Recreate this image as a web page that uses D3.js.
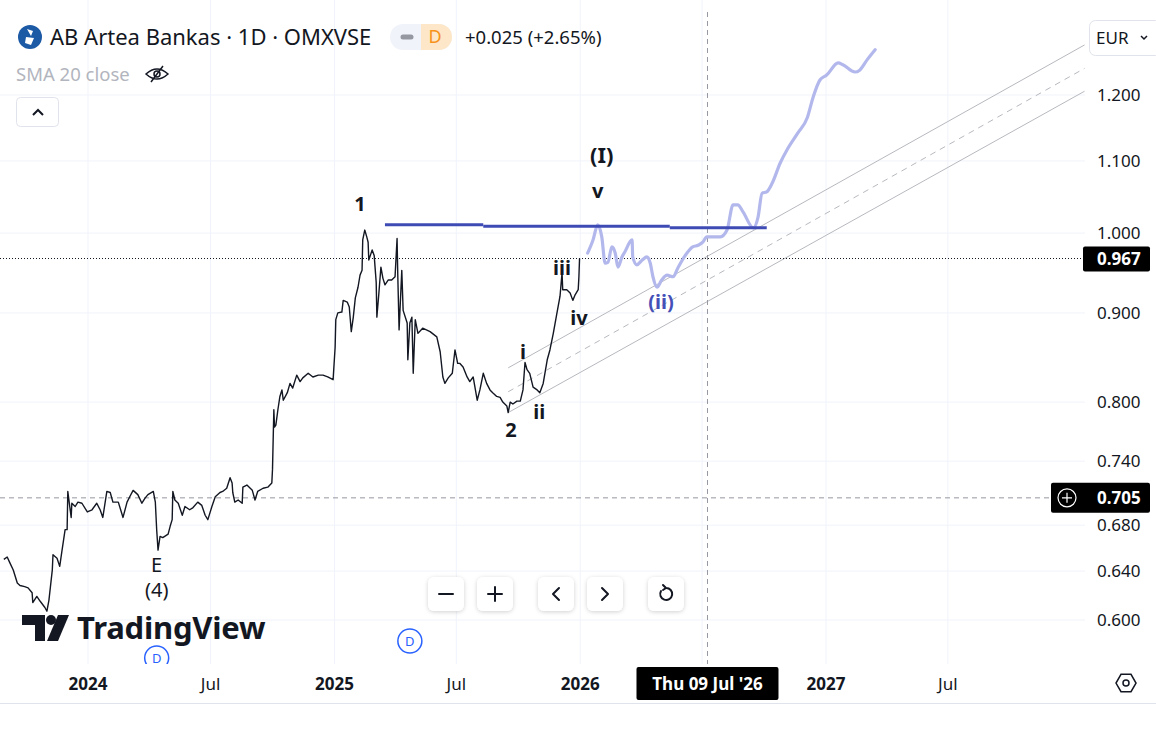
<!DOCTYPE html>
<html>
<head>
<meta charset="utf-8">
<script src="https://cdn.jsdelivr.net/npm/d3@7"></script>
<style>
  body { margin: 0; background: #fff; }
  svg { display: block; font-family: "Noto Sans", sans-serif; }
</style>
</head>
<body>
<div id="chart"></div>
<script>
// daily closes (AB Artea Bankas, OMXVSE)
const priceDates = [
  "2023-08-29","2023-09-03","2023-09-07","2023-09-12","2023-09-18","2023-09-22","2023-09-29","2023-10-04",
  "2023-10-10","2023-10-11","2023-10-17","2023-10-22","2023-10-29","2023-11-01","2023-11-04","2023-11-09",
  "2023-11-10","2023-11-16","2023-11-20","2023-11-23","2023-11-28","2023-12-01","2023-12-02","2023-12-07",
  "2023-12-08","2023-12-13","2023-12-17","2023-12-23","2023-12-31","2024-01-07","2024-01-14","2024-01-19",
  "2024-01-23","2024-01-29","2024-02-03","2024-02-07","2024-02-15","2024-02-22","2024-02-28","2024-03-03",
  "2024-03-08","2024-03-15","2024-03-21","2024-03-26","2024-03-30","2024-04-07","2024-04-10","2024-04-12",
  "2024-04-14","2024-04-17","2024-04-21","2024-04-29","2024-05-02","2024-05-05","2024-05-06","2024-05-09",
  "2024-05-14","2024-05-20","2024-05-24","2024-05-31","2024-06-05","2024-06-12","2024-06-18","2024-06-23",
  "2024-06-27","2024-07-03","2024-07-08","2024-07-15","2024-07-19","2024-07-25","2024-07-30","2024-08-02",
  "2024-08-03","2024-08-06","2024-08-11","2024-08-17","2024-08-18","2024-08-24","2024-09-01","2024-09-05",
  "2024-09-09","2024-09-17","2024-09-24","2024-09-30","2024-10-01","2024-10-03","2024-10-04","2024-10-06",
  "2024-10-09","2024-10-12","2024-10-15","2024-10-17","2024-10-23","2024-10-27","2024-10-31","2024-11-06",
  "2024-11-11","2024-11-15","2024-11-23","2024-11-30","2024-12-08","2024-12-15","2024-12-22","2024-12-30",
  "2025-01-02","2025-01-03","2025-01-06","2025-01-12","2025-01-14","2025-01-20","2025-01-23","2025-01-26",
  "2025-01-29","2025-02-01","2025-02-05","2025-02-08","2025-02-11","2025-02-12","2025-02-15","2025-02-18",
  "2025-02-20","2025-02-21","2025-02-26","2025-03-01","2025-03-04","2025-03-05","2025-03-08","2025-03-11",
  "2025-03-14","2025-03-17","2025-03-22","2025-03-27","2025-04-01","2025-04-04","2025-04-05","2025-04-07",
  "2025-04-11","2025-04-13","2025-04-19","2025-04-20","2025-04-23","2025-04-26","2025-04-28","2025-05-01",
  "2025-05-05","2025-05-12","2025-05-23","2025-06-02","2025-06-07","2025-06-11","2025-06-14","2025-06-19",
  "2025-06-25","2025-06-29","2025-07-03","2025-07-06","2025-07-11","2025-07-17","2025-07-21","2025-07-26",
  "2025-08-01","2025-08-05","2025-08-10","2025-08-15","2025-08-20","2025-08-24","2025-08-30","2025-09-04",
  "2025-09-08","2025-09-14","2025-09-16","2025-09-19","2025-09-23","2025-09-29","2025-10-04","2025-10-08",
  "2025-10-11","2025-10-14","2025-10-18","2025-10-23","2025-10-29","2025-11-02","2025-11-07","2025-11-13",
  "2025-11-17","2025-11-22","2025-11-27","2025-12-02","2025-12-05","2025-12-06","2025-12-12","2025-12-17",
  "2025-12-21","2025-12-24","2025-12-29","2025-12-30","2025-12-31"
];
const priceValues = [
  0.650,0.652,0.647,0.641,0.630,0.628,0.627,0.626,
  0.622,0.614,0.619,0.615,0.610,0.607,0.616,0.641,
  0.654,0.651,0.644,0.656,0.676,0.676,0.711,0.687,
  0.700,0.697,0.701,0.700,0.692,0.694,0.700,0.694,
  0.687,0.711,0.710,0.701,0.701,0.687,0.701,0.706,
  0.712,0.708,0.700,0.705,0.708,0.711,0.701,0.676,
  0.658,0.670,0.669,0.672,0.679,0.685,0.711,0.703,
  0.700,0.689,0.697,0.694,0.696,0.701,0.698,0.689,
  0.685,0.697,0.706,0.710,0.711,0.714,0.724,0.719,
  0.710,0.701,0.703,0.700,0.715,0.717,0.712,0.703,
  0.711,0.714,0.715,0.719,0.732,0.792,0.774,0.776,
  0.792,0.806,0.813,0.802,0.810,0.820,0.815,0.829,
  0.822,0.826,0.831,0.827,0.829,0.829,0.827,0.824,
  0.860,0.892,0.900,0.901,0.915,0.913,0.907,0.878,
  0.895,0.918,0.931,0.946,0.952,0.991,1.004,0.995,
  0.988,0.965,0.978,0.971,0.937,0.895,0.924,0.956,
  0.942,0.934,0.940,0.940,0.944,0.993,0.948,0.880,
  0.952,0.903,0.888,0.846,0.888,0.895,0.831,0.892,
  0.876,0.882,0.878,0.872,0.855,0.827,0.820,0.826,
  0.831,0.857,0.842,0.842,0.838,0.827,0.822,0.827,
  0.802,0.813,0.831,0.820,0.813,0.810,0.806,0.805,
  0.800,0.796,0.789,0.800,0.798,0.801,0.801,0.813,
  0.843,0.835,0.831,0.816,0.813,0.810,0.820,0.846,
  0.857,0.876,0.898,0.920,0.949,0.928,0.928,0.924,
  0.915,0.921,0.928,0.943,0.967
];

// hand-drawn projected path
const forecastDates = [
  "2026-01-12","2026-01-20","2026-01-27","2026-02-02","2026-02-07","2026-02-11","2026-02-17","2026-02-22",
  "2026-02-26","2026-03-04","2026-03-08","2026-03-19","2026-03-20","2026-03-26","2026-04-03","2026-04-10",
  "2026-04-15","2026-04-19","2026-04-25","2026-05-02","2026-05-10","2026-05-19","2026-05-26","2026-06-06",
  "2026-06-17","2026-06-25","2026-07-02","2026-07-08","2026-07-28","2026-08-07","2026-08-16","2026-08-23",
  "2026-08-31","2026-09-15","2026-09-22","2026-09-28","2026-10-05","2026-10-13","2026-10-25","2026-11-04",
  "2026-11-20","2026-12-04","2026-12-13","2026-12-23","2027-01-02","2027-01-19","2027-01-26","2027-02-13",
  "2027-02-20","2027-03-03","2027-03-15"
];
const forecastValues = [
  0.974,0.991,1.011,0.995,0.961,0.962,0.982,0.974,
  0.956,0.969,0.975,0.991,0.969,0.959,0.965,0.969,
  0.961,0.944,0.931,0.940,0.946,0.944,0.955,0.971,
  0.982,0.984,0.988,0.995,0.995,1.004,1.038,1.038,
  1.028,1.007,1.021,1.054,1.056,1.068,1.097,1.116,
  1.141,1.164,1.197,1.224,1.232,1.252,1.249,1.237,
  1.240,1.257,1.274
];

// resistance line (three joined segments)
const resistanceDates = ["2025-03-17", "2025-08-10", "2026-05-14", "2026-10-05"];
const resistanceValues = [1.011, 1.009, 1.007];

// parallel channel
const channelDates = ["2025-09-16", "2028-01-20"];
const channelUpper = [0.837, 1.282];
const channelMid = [0.811, 1.243];
const channelLower = [0.789, 1.206];

const lastPrice = 0.967;
const crossPrice = 0.705;
const crossDate = "2026-07-09";
const crossDateLabel = "Thu 09 Jul '26";

const priceTicks = [0.6, 0.64, 0.68, 0.74, 0.8, 0.9, 1.0, 1.1, 1.2];
const timeTicks = ["2024-01-01","2024-07-01","2025-01-01","2025-07-01","2026-01-01","2026-07-01","2027-01-01","2027-07-01"];
const timeTickLabels = ["2024","Jul","2025","Jul","2026","","2027","Jul"];

// Elliott wave labels
const waveText = ["1", "2", "i", "ii", "iii", "iv", "v", "(I)", "E", "(4)", "(ii)"];
const waveDates = ["2025-02-08","2025-09-20","2025-10-08","2025-11-01","2025-12-05","2025-12-30","2026-01-27","2026-02-02","2024-04-12","2024-04-12","2026-05-01"];
const waveValues = [1.039, 0.771, 0.855, 0.790, 0.955, 0.894, 1.058, 1.108, 0.645, 0.624, 0.913];

const dividendDates = ["2024-04-12", "2025-04-23"];

const W = 1156, H = 752;
const plotRight = 1085, plotBottom = 664;
const parse = d3.utcParse("%Y-%m-%d");

const svg = d3.select('#chart').append('svg')
    .attr('width', W)
    .attr('height', H);

svg.append('rect').attr('width', W).attr('height', H).attr('fill', '#fff');

const x = d3.scaleUtc()
    .domain([parse("2024-01-01"), parse("2027-01-01")])
    .range([88, 826]);

const y = d3.scaleLog()
    .domain([0.6, 1.2])
    .range([620, 95]);

svg.append('defs').append('clipPath').attr('id', 'plot-clip')
    .append('rect').attr('x', 0).attr('y', 0).attr('width', plotRight).attr('height', plotBottom);

const defs = svg.select('defs');
const shadow = defs.append('filter').attr('id', 'btn-shadow')
    .attr('x', '-30%').attr('y', '-30%').attr('width', '160%').attr('height', '160%');
shadow.append('feDropShadow').attr('dx', 0).attr('dy', 1).attr('stdDeviation', 2)
    .attr('flood-color', '#000').attr('flood-opacity', 0.18);

const plot = svg.append('g').attr('clip-path', 'url(#plot-clip)');

// gridlines
plot.append('g').selectAll('line')
    .data(timeTicks)
    .join('line')
    .attr('x1', d => x(parse(d))).attr('x2', d => x(parse(d)))
    .attr('y1', 0).attr('y2', plotBottom)
    .attr('stroke', '#f0f3fa');

plot.append('g').selectAll('line')
    .data(priceTicks)
    .join('line')
    .attr('x1', 0).attr('x2', plotRight)
    .attr('y1', d => y(d)).attr('y2', d => y(d))
    .attr('stroke', '#f0f3fa');

// channel
const channelLine = d3.line().x(d => x(parse(d[0]))).y(d => y(d[1]));
[channelUpper, channelMid, channelLower].forEach((vals, i) => {
    plot.append('path')
        .datum(channelDates.map((d, j) => [d, vals[j]]))
        .attr('d', channelLine)
        .attr('fill', 'none')
        .attr('stroke', '#b7b9bf')
        .attr('stroke-width', 1)
        .attr('stroke-dasharray', i === 1 ? '6,5' : null);
});

// last price dotted line
plot.append('line')
    .attr('x1', 0).attr('x2', plotRight)
    .attr('y1', y(lastPrice)).attr('y2', y(lastPrice))
    .attr('stroke', '#131722')
    .attr('stroke-width', 1)
    .attr('stroke-dasharray', '1,2');

// crosshair
plot.append('line')
    .attr('x1', 0).attr('x2', plotRight)
    .attr('y1', y(crossPrice)).attr('y2', y(crossPrice))
    .attr('stroke', '#9598a1')
    .attr('stroke-dasharray', '5,4');

plot.append('line')
    .attr('x1', x(parse(crossDate))).attr('x2', x(parse(crossDate)))
    .attr('y1', 12).attr('y2', plotBottom)
    .attr('stroke', '#9598a1')
    .attr('stroke-dasharray', '5,4');

// price line
const priceData = priceDates.map((d, i) => ({ date: parse(d), value: priceValues[i] }));
plot.append('path')
    .datum(priceData)
    .attr('d', d3.line().x(d => x(d.date)).y(d => y(d.value)))
    .attr('fill', 'none')
    .attr('stroke', '#131722')
    .attr('stroke-width', 1.4)
    .attr('stroke-linejoin', 'round');

// projection
const forecastData = forecastDates.map((d, i) => ({ date: parse(d), value: forecastValues[i] }));
plot.append('path')
    .datum(forecastData)
    .attr('d', d3.line().x(d => x(d.date)).y(d => y(d.value)).curve(d3.curveMonotoneX))
    .attr('fill', 'none')
    .attr('stroke', '#b3b8ec')
    .attr('stroke-width', 3.2)
    .attr('stroke-linecap', 'round')
    .attr('stroke-linejoin', 'round');

// resistance
resistanceValues.forEach((v, i) => {
    plot.append('line')
        .attr('x1', x(parse(resistanceDates[i])))
        .attr('x2', x(parse(resistanceDates[i + 1])))
        .attr('y1', y(v)).attr('y2', y(v))
        .attr('stroke', '#3f4bb4')
        .attr('stroke-width', 3);
});

// wave labels
plot.append('g').selectAll('text')
    .data(waveText)
    .join('text')
    .attr('x', (d, i) => x(parse(waveDates[i])))
    .attr('y', (d, i) => y(waveValues[i]))
    .attr('dy', '0.36em')
    .attr('text-anchor', 'middle')
    .attr('font-size', d => (d === '(I)' ? 22 : 20))
    .attr('font-weight', d => (d === 'E' || d === '(4)' ? 'normal' : 'bold'))
    .attr('fill', d => (d === '(ii)' ? '#4450b8' : '#131722'))
    .text(d => d);

// dividend markers
const divG = plot.append('g').selectAll('g')
    .data(dividendDates)
    .join('g')
    .attr('transform', (d, i) => `translate(${x(parse(d))},${i === 0 ? 658 : 641})`);
divG.append('circle').attr('r', 12).attr('fill', '#fff').attr('stroke', '#2962ff').attr('stroke-width', 1.5);
divG.append('text').attr('text-anchor', 'middle').attr('dy', '0.36em')
    .attr('font-size', 13).attr('fill', '#2962ff').text('D');

// TradingView watermark
const logo = svg.append('g').attr('fill', '#131722');
logo.append('path').attr('d', 'M22,615 H45 V641 H35 V625 H22 Z');
logo.append('circle').attr('cx', 51).attr('cy', 620).attr('r', 5);
logo.append('path').attr('d', 'M58,615 H69 L58,641 H47 Z');
logo.append('text')
    .attr('x', 77).attr('y', 639)
    .attr('font-size', 31).attr('font-weight', 'bold')
    .attr('letter-spacing', -0.2)
    .text('TradingView');

// navigation buttons
const btnX = [428, 477, 538, 587, 648];
const btnG = svg.append('g').selectAll('g')
    .data(btnX)
    .join('g')
    .attr('transform', d => `translate(${d},577)`);
btnG.append('rect').attr('width', 36).attr('height', 34).attr('rx', 6)
    .attr('fill', '#fff').attr('filter', 'url(#btn-shadow)');
const icons = [
    'M11,17 H25',
    'M11,17 H25 M18,10 V24',
    'M21,11 L15,17 L21,23',
    'M15,11 L21,17 L15,23',
    'M13,14 A6,6 0 1 0 18,11 M18,11 L15,8 M18,11 L15,13'
];
btnG.append('path').attr('d', (d, i) => icons[i])
    .attr('fill', 'none').attr('stroke', '#131722').attr('stroke-width', 2)
    .attr('stroke-linecap', 'round').attr('stroke-linejoin', 'round');

// right price scale
svg.append('g').selectAll('text')
    .data(priceTicks)
    .join('text')
    .attr('x', 1097)
    .attr('y', d => y(d))
    .attr('dy', '0.36em')
    .attr('font-size', 17)
    .attr('fill', '#131722')
    .text(d => d.toFixed(3));

svg.append('rect').attr('x', 1083).attr('y', y(lastPrice) - 12).attr('width', 67).attr('height', 25)
    .attr('rx', 2).attr('fill', '#000');
svg.append('text').attr('x', 1097).attr('y', y(lastPrice)).attr('dy', '0.36em')
    .attr('font-size', 17).attr('font-weight', 'bold').attr('fill', '#fff').text(lastPrice.toFixed(3));

svg.append('rect').attr('x', 1051).attr('y', y(crossPrice) - 15).attr('width', 99).attr('height', 30)
    .attr('rx', 2).attr('fill', '#000');
svg.append('circle').attr('cx', 1067).attr('cy', y(crossPrice)).attr('r', 9)
    .attr('fill', 'none').attr('stroke', '#fff').attr('stroke-width', 1.2);
svg.append('path')
    .attr('d', `M1062,${y(crossPrice)} H1072 M1067,${y(crossPrice) - 5} V${y(crossPrice) + 5}`)
    .attr('stroke', '#fff').attr('stroke-width', 1.2);
svg.append('text').attr('x', 1097).attr('y', y(crossPrice)).attr('dy', '0.36em')
    .attr('font-size', 17).attr('font-weight', 'bold').attr('fill', '#fff').text(crossPrice.toFixed(3));

// currency selector
svg.append('rect').attr('x', 1089.5).attr('y', 20.5).attr('width', 72).attr('height', 35).attr('rx', 6)
    .attr('fill', '#fff').attr('stroke', '#e0e3eb');
svg.append('text').attr('x', 1096).attr('y', 38).attr('dy', '0.36em')
    .attr('font-size', 17).attr('fill', '#131722').text('EUR');
svg.append('path').attr('d', 'M1141,36 L1144,39 L1147,36')
    .attr('fill', 'none').attr('stroke', '#131722').attr('stroke-width', 1.5);

// time axis
svg.append('line').attr('x1', 0).attr('x2', W).attr('y1', 703.5).attr('y2', 703.5).attr('stroke', '#e0e3eb');
svg.append('g').selectAll('text')
    .data(timeTicks)
    .join('text')
    .attr('x', d => x(parse(d)))
    .attr('y', 684)
    .attr('dy', '0.36em')
    .attr('text-anchor', 'middle')
    .attr('font-size', 17)
    .attr('font-weight', (d, i) => (timeTickLabels[i] === 'Jul' ? 'normal' : 'bold'))
    .attr('fill', '#131722')
    .text((d, i) => timeTickLabels[i]);

const cx = x(parse(crossDate));
svg.append('rect').attr('x', cx - 71).attr('y', 667).attr('width', 142).attr('height', 33)
    .attr('rx', 2).attr('fill', '#000');
svg.append('text').attr('x', cx).attr('y', 684).attr('dy', '0.36em').attr('text-anchor', 'middle')
    .attr('font-size', 17).attr('font-weight', 'bold').attr('fill', '#fff').text(crossDateLabel);

// settings hexagon
svg.append('path')
    .attr('d', d3.range(6).map(i => {
        const a = Math.PI / 3 * i;
        return (i ? 'L' : 'M') + (1126 + 10 * Math.cos(a)) + ',' + (683 + 10 * Math.sin(a));
    }).join('') + 'Z')
    .attr('fill', 'none').attr('stroke', '#131722').attr('stroke-width', 1.5);
svg.append('circle').attr('cx', 1126).attr('cy', 683).attr('r', 3)
    .attr('fill', 'none').attr('stroke', '#131722').attr('stroke-width', 1.5);

// header
svg.append('circle').attr('cx', 30).attr('cy', 37).attr('r', 12).attr('fill', '#1c5aa6');
svg.append('path').attr('d', 'M27,29 L33,31 L31,36 Z M26,37 L34,38 L31,45 L25,43 Z').attr('fill', '#fff');
svg.append('text').attr('x', 50).attr('y', 37).attr('dy', '0.36em')
    .attr('font-size', 22).attr('fill', '#131722')
    .text('AB Artea Bankas · 1D · OMXVSE');

svg.append('rect').attr('x', 390).attr('y', 24).attr('width', 62).attr('height', 26).attr('rx', 13).attr('fill', '#f0f3fa');
svg.append('path').attr('d', 'M421,24 H439 A13,13 0 0 1 439,50 H421 Z').attr('fill', '#fde7c8');
svg.append('line').attr('x1', 403).attr('x2', 411).attr('y1', 37).attr('y2', 37)
    .attr('stroke', '#9598a1').attr('stroke-width', 5).attr('stroke-linecap', 'round');
svg.append('text').attr('x', 435).attr('y', 37).attr('dy', '0.36em').attr('text-anchor', 'middle')
    .attr('font-size', 18).attr('fill', '#f7931a').text('D');

svg.append('text').attr('x', 465).attr('y', 37).attr('dy', '0.36em')
    .attr('font-size', 18.5).attr('fill', '#131722').text('+0.025 (+2.65%)');

svg.append('text').attr('x', 16).attr('y', 74).attr('dy', '0.36em')
    .attr('font-size', 18.5).attr('fill', '#b2b5be').text('SMA 20 close');
svg.append('path').attr('d', 'M146,74 Q157,64 168,74 Q157,84 146,74 Z M151,82 L163,66')
    .attr('fill', 'none').attr('stroke', '#131722').attr('stroke-width', 1.5);
svg.append('circle').attr('cx', 157).attr('cy', 74).attr('r', 3)
    .attr('fill', 'none').attr('stroke', '#131722').attr('stroke-width', 1.5);

svg.append('rect').attr('x', 16.5).attr('y', 97.5).attr('width', 42).attr('height', 29).attr('rx', 4)
    .attr('fill', '#fff').attr('stroke', '#e0e3eb');
svg.append('path').attr('d', 'M33,115 L38,110 L43,115')
    .attr('fill', 'none').attr('stroke', '#131722').attr('stroke-width', 2);
</script>
</body>
</html>
